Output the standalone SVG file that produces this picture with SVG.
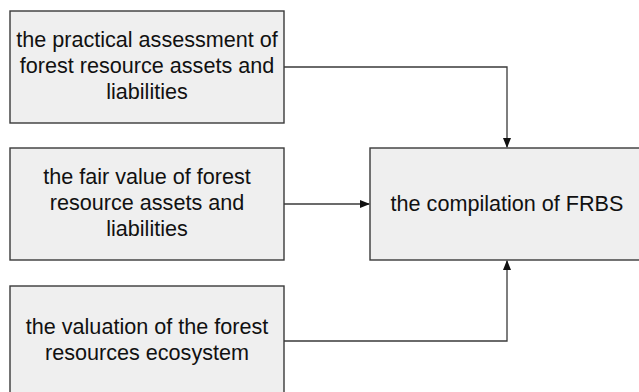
<svg xmlns="http://www.w3.org/2000/svg" width="639" height="392" viewBox="0 0 639 392">
<style>
.box{fill:#efefef;stroke:#3a3a3a;stroke-width:1.4}
.t{font-family:"Liberation Sans",Arial,sans-serif;font-size:21.6px;fill:#111;text-anchor:middle}
.c{fill:none;stroke:#3a3a3a;stroke-width:1.3}
</style>
<defs>
<marker id="ah" markerWidth="10" markerHeight="10" refX="9" refY="5" orient="auto" markerUnits="userSpaceOnUse">
<path d="M0,1 L10,5 L0,9 Z" fill="#111"/>
</marker>
</defs>
<rect width="639" height="392" fill="#fff"/>
<g id="n1"><rect class="box" x="10" y="11" width="274" height="112"/>
<text class="t" x="147" y="47">the practical assessment of</text>
<text class="t" x="147" y="73">forest resource assets and</text>
<text class="t" x="147" y="99">liabilities</text></g>
<g id="n2"><rect class="box" x="10" y="148" width="274" height="112"/>
<text class="t" x="147" y="184">the fair value of forest</text>
<text class="t" x="147" y="210">resource assets and</text>
<text class="t" x="147" y="236">liabilities</text></g>
<g id="n3"><rect class="box" x="10" y="286" width="274" height="112"/>
<text class="t" x="147" y="334">the valuation of the forest</text>
<text class="t" x="147" y="360">resources ecosystem</text></g>
<g id="n4"><rect class="box" x="370" y="148" width="274" height="112"/>
<text class="t" x="507" y="211">the compilation of FRBS</text></g>
<g id="connectors">
<path class="c" d="M284,67 H507 V147" marker-end="url(#ah)"/>
<path class="c" d="M284,204 H369" marker-end="url(#ah)"/>
<path class="c" d="M284,341 H507 V261" marker-end="url(#ah)"/>
</g>
</svg>
